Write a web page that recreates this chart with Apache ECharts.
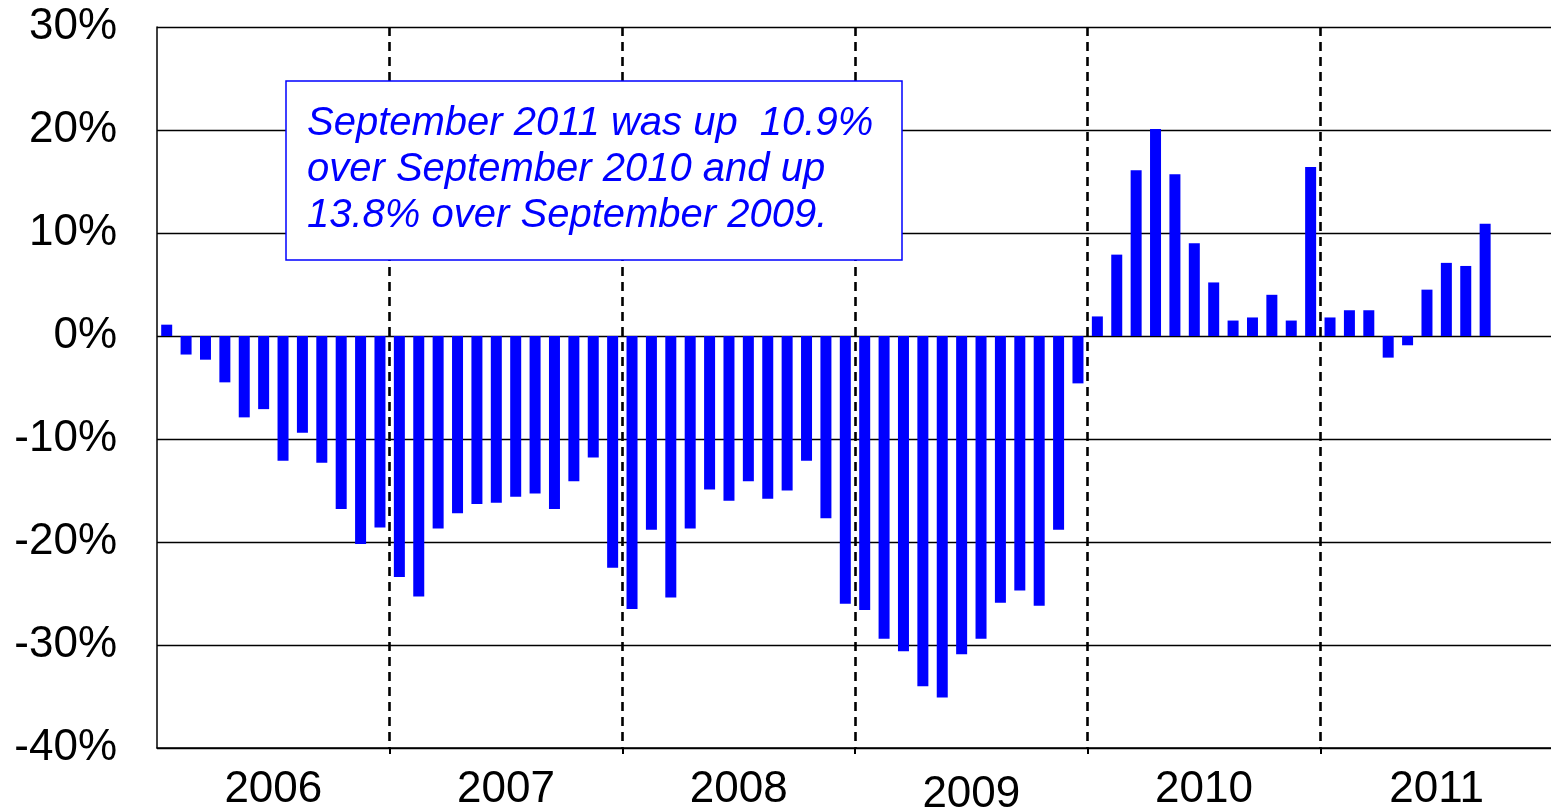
<!DOCTYPE html>
<html>
<head>
<meta charset="utf-8">
<script src="https://cdn.jsdelivr.net/npm/echarts@6/dist/echarts.min.js"></script>
<style>
html,body{margin:0;padding:0;background:#fff;}
#chart{width:1551px;height:808px;}
</style>
</head>
<body>
<div id="chart"></div>
<script>
// Monthly year-over-year change (%), Jan 2006 - Sep 2011
var years = ['2006', '2007', '2008', '2009', '2010', '2011'];
var monthNames = ['Jan','Feb','Mar','Apr','May','Jun','Jul','Aug','Sep','Oct','Nov','Dec'];
var values2006 = [1.1, -1.8, -2.3, -4.5, -7.9, -7.1, -12.1, -9.4, -12.3, -16.8, -20.2, -18.6];
var values2007 = [-23.4, -25.3, -18.7, -17.2, -16.3, -16.2, -15.6, -15.3, -16.8, -14.1, -11.8, -22.5];
var values2008 = [-26.5, -18.8, -25.4, -18.7, -14.9, -16.0, -14.1, -15.8, -15.0, -12.1, -17.7, -26.0];
var values2009 = [-26.6, -29.4, -30.6, -34.0, -35.1, -30.9, -29.4, -25.9, -24.7, -26.2, -18.8, -4.6];
var values2010 = [1.9, 7.9, 16.1, 20.1, 15.7, 9.0, 5.2, 1.5, 1.8, 4.0, 1.5, 16.4];
var values2011 = [1.8, 2.5, 2.5, -2.1, -0.9, 4.5, 7.1, 6.8, 10.9];
var yTicks = [-40, -30, -20, -10, 0, 10, 20, 30];
var noteText = 'September 2011 was up  10.9%\nover September 2010 and up\n13.8% over September 2009.';

var months = [];
years.forEach(function (y) { monthNames.forEach(function (m) { months.push(m + ' ' + y); }); });
var allValues = [].concat(values2006, values2007, values2008, values2009, values2010, values2011);
while (allValues.length < months.length) allValues.push(null);

var FONT = '"Liberation Sans", Arial, sans-serif';
var innerBoundary = function (idx) { return idx > 0 && idx < years.length; };
var chart = echarts.init(document.getElementById('chart'), null, {renderer: 'canvas'});
chart.setOption({
  animation: false,
  backgroundColor: '#ffffff',
  grid: {left: 157, right: -2, top: 27, bottom: 60, containLabel: false, outerBoundsMode: 'none'},
  xAxis: [
    {
      type: 'category', data: months, boundaryGap: true,
      axisLine: {show: false}, axisTick: {show: false}, axisLabel: {show: false},
      splitLine: {show: false}
    },
    {
      type: 'category', data: years, boundaryGap: true, position: 'bottom',
      axisLine: {show: true, onZero: false, lineStyle: {color: '#000', width: 1.5}},
      axisTick: {show: true, interval: innerBoundary, length: 6, inside: false, lineStyle: {color: '#000', width: 2}},
      axisLabel: {
        show: true, interval: 0, color: '#000', fontSize: 44, fontFamily: FONT, margin: 20,
        formatter: function (v) { return v === '2009' ? '{low|' + v + '}' : v; },
        rich: {low: {fontSize: 44, fontFamily: FONT, color: '#000', padding: [5, 0, 0, 0]}}
      },
      splitLine: {
        show: true,
        interval: innerBoundary,
        lineStyle: {color: '#000', width: 2.6, type: [9, 6]}
      }
    }
  ],
  yAxis: {
    type: 'value', min: yTicks[0], max: yTicks[yTicks.length - 1], interval: 10,
    axisLine: {show: true, lineStyle: {color: '#000', width: 1.5}},
    axisTick: {show: false},
    axisLabel: {color: '#000', fontSize: 44, fontFamily: FONT, margin: 40, formatter: '{value}%'},
    splitLine: {show: true, lineStyle: {color: '#000', width: 1.3}}
  },
  series: [{
    type: 'bar', xAxisIndex: 0, data: allValues, barWidth: 11,
    itemStyle: {color: '#0000FF'}
  }],
  graphic: [
    {type: 'rect', z: 200, zlevel: 1, shape: {x: 286, y: 81, width: 616, height: 179},
     style: {fill: '#fff', stroke: '#0000FF', lineWidth: 1.5}},
    {type: 'text', z: 201, zlevel: 1, x: 307, y: 170,
     style: {text: noteText, fill: '#0000FF', font: 'italic 40px "Liberation Sans", Arial, sans-serif',
             lineHeight: 46, align: 'left', verticalAlign: 'middle'}}
  ]
});
</script>
</body>
</html>
